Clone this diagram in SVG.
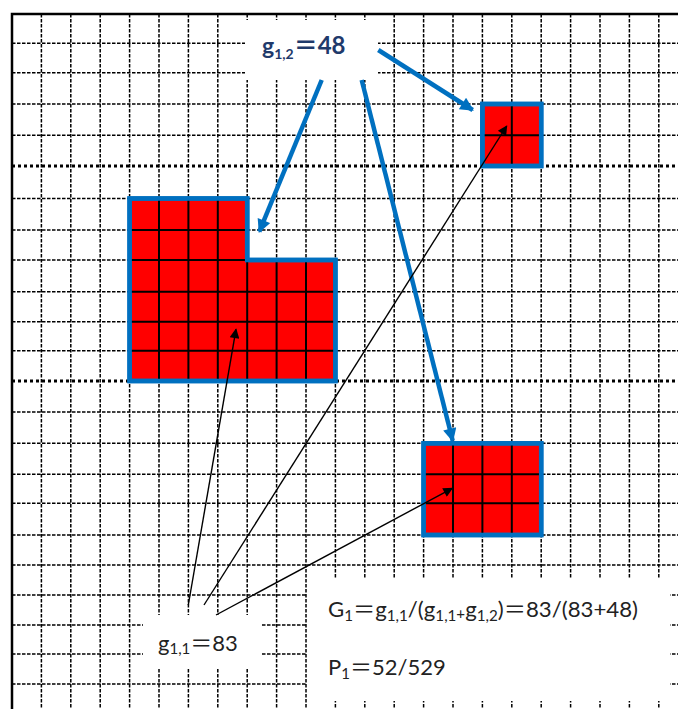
<svg xmlns="http://www.w3.org/2000/svg" width="678" height="709" viewBox="0 0 678 709">
<style>
.grid{fill:none;stroke:#000;stroke-width:1.5;stroke-dasharray:3.5 1.5}
.gridb{fill:none;stroke:#000;stroke-width:2.8;stroke-dasharray:3 3}
.frame{fill:none;stroke:#000;stroke-width:2.5}
.red{fill:#FF0000;stroke:#0070C0;stroke-width:4.5}
.cell{fill:none;stroke:#000;stroke-width:2}
.wbox{fill:#fff}
.blue{fill:none;stroke:#0070C0;stroke-width:4.5}
.blk{fill:none;stroke:#000;stroke-width:1.4}
.t{font-family:Lato,"Noto Sans CJK SC",sans-serif;fill:#222}
.tb{font-family:Lato,"Noto Sans CJK SC",sans-serif;font-weight:bold;fill:#1F3A6B}
</style>
<defs>
<marker id="ab" viewBox="0 0 10 10" refX="9" refY="5" markerWidth="3.4" markerHeight="3" markerUnits="strokeWidth" orient="auto"><path d="M0,0 L10,5 L0,10 Z" fill="#0070C0"/></marker>
<marker id="ak" viewBox="0 0 10 10" refX="9" refY="5" markerWidth="9" markerHeight="7" markerUnits="strokeWidth" orient="auto"><path d="M0,0 L10,5 L0,10 Z" fill="#000"/></marker>
</defs>
<rect width="678" height="709" fill="#fff"/>
<g id="grid">
<path class="grid" d="M41.4,14V709M70.8,14V709M100.2,14V709M129.6,14V709M159,14V709M188.4,14V709M217.8,14V709M247.2,14V709M276.6,14V709M306,14V709M335.4,14V709M364.8,14V709M394.2,14V709M423.6,14V709M453,14V709M482.4,14V709M511.8,14V709M541.2,14V709M570.6,14V709M600,14V709M629.4,14V709M658.8,14V709
M12,43.3H678M12,72.7H678M12,104H678M12,135.3H678M12,198.5H678M12,230H678M12,260H678M12,291.7H678M12,321.7H678M12,350.7H678M12,412H678M12,443.3H678M12,474.3H678M12,503.3H678M12,535H678M12,565H678M12,595H678M12,625H678M12,654H678M12,684H678"/>
<path class="gridb" d="M12,166H678M12,381H678"/>
<path class="frame" d="M12,709V14H678"/>
</g>
<g id="region-L">
<path class="red" d="M129.6,198.5H247.2V260H335.4V381H129.6Z"/>
<path class="cell" d="M159,198.5V381M188.4,198.5V381M217.8,198.5V381M247.2,260V381M276.6,260V381M306,260V381M129.6,230H247.2M129.6,260H247.2M129.6,291.7H335.4M129.6,321.7H335.4M129.6,350.7H335.4"/>
<path d="M129.6,198.5H247.2V260H335.4V381H129.6Z" fill="none" stroke="#0070C0" stroke-width="4.5"/>
</g>
<g id="region-small">
<rect class="red" x="482.4" y="104" width="58.8" height="62"/>
<path class="cell" d="M511.8,104V166M482.4,135.3H541.2"/>
<rect x="482.4" y="104" width="58.8" height="62" fill="none" stroke="#0070C0" stroke-width="4.5"/>
</g>
<g id="region-right">
<rect class="red" x="423.6" y="443.3" width="117.6" height="91.7"/>
<path class="cell" d="M453,443.3V535M482.4,443.3V535M511.8,443.3V535M423.6,474.3H541.2M423.6,503.3H541.2"/>
<rect x="423.6" y="443.3" width="117.6" height="91.7" fill="none" stroke="#0070C0" stroke-width="4.5"/>
</g>
<g id="label-g12">
<rect class="wbox" x="245" y="20" width="133" height="60"/>
<text class="tb" x="262" y="54" font-size="23">g<tspan font-size="14" dy="5">1,2</tspan><tspan dy="-5" font-size="24">＝48</tspan></text>
</g>
<g id="label-g11">
<rect class="wbox" x="143" y="615" width="118" height="53"/>
<text class="t" x="158" y="651" font-size="22">g<tspan font-size="15" dy="3">1,1</tspan><tspan dy="-3">＝83</tspan></text>
</g>
<g id="label-formula">
<rect class="wbox" x="307" y="578" width="363" height="123"/>
<text class="t" x="328" y="617" font-size="22" textLength="310" lengthAdjust="spacingAndGlyphs">G<tspan font-size="15" dy="4">1</tspan><tspan dy="-4">＝g</tspan><tspan font-size="15" dy="4">1,1</tspan><tspan dy="-4">/(g</tspan><tspan font-size="15" dy="4">1,1</tspan><tspan font-size="15" dy="-2">+</tspan><tspan dy="-2">g</tspan><tspan font-size="15" dy="4">1,2</tspan><tspan dy="-4">)＝83/(83+48)</tspan></text>
<text class="t" x="328" y="675" font-size="22">P<tspan font-size="15" dy="4">1</tspan><tspan dy="-4">＝52/529</tspan></text>
</g>
<g id="connectors">
<line class="blue" x1="321.7" y1="80" x2="259.3" y2="231.7" marker-end="url(#ab)"/>
<line class="blue" x1="361.7" y1="80" x2="452.7" y2="440.7" marker-end="url(#ab)"/>
<line class="blue" x1="378.3" y1="50" x2="472.7" y2="110" marker-end="url(#ab)"/>
<line class="blk" x1="188.3" y1="605" x2="236" y2="329.3" marker-end="url(#ak)"/>
<line class="blk" x1="204" y1="605" x2="506.7" y2="126" marker-end="url(#ak)"/>
<line class="blk" x1="216" y1="615" x2="452.3" y2="488.3" marker-end="url(#ak)"/>
</g>
</svg>
